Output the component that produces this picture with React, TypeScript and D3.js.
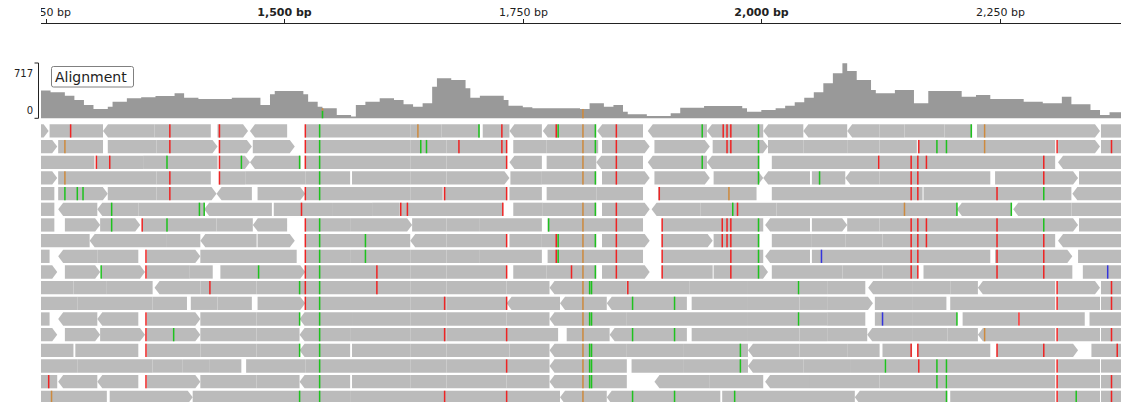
import React from "react";
import * as d3 from "d3";

// Visible region (bp)
const viewStart = 1245;
const viewEnd = 2377;

// Ruler
const tickPositions = [1250, 1500, 1750, 2000, 2250];
const tickLabels = ["1,250 bp", "1,500 bp", "1,750 bp", "2,000 bp", "2,250 bp"];
const tickBold = [false, true, false, true, false];

// Coverage track: depth sampled every 5 bp starting at coverageStart
const coverageMax = 717;
const coverageStart = 1240;
const coverageStep = 5;
const coverageValues = [
  360, 360, 360, 337, 337, 337, 294, 294, 238, 238, 173, 173, 121, 121, 121, 151,
  216, 216, 216, 259, 259, 259, 272, 272, 272, 290, 290, 290, 290, 324, 324, 268,
  268, 268, 250, 250, 250, 250, 250, 250, 250, 268, 268, 268, 268, 268, 268, 173,
  173, 311, 354, 354, 354, 354, 354, 354, 311, 216, 216, 151, 130, 130, 130, 43,
  43, 43, 22, 173, 173, 216, 216, 216, 259, 259, 259, 238, 238, 181, 181, 151,
  151, 194, 194, 410, 518, 518, 518, 497, 497, 497, 389, 268, 268, 294, 294, 294,
  294, 294, 238, 164, 164, 164, 143, 143, 130, 130, 130, 130, 130, 130, 130, 130,
  130, 130, 121, 121, 194, 194, 194, 151, 151, 173, 173, 86, 52, 52, 52, 52,
  30, 30, 30, 30, 30, 65, 65, 138, 138, 138, 138, 138, 160, 160, 160, 160,
  160, 160, 160, 160, 130, 86, 86, 86, 108, 108, 108, 130, 130, 164, 164, 207,
  207, 268, 268, 337, 337, 454, 454, 583, 583, 713, 613, 613, 497, 497, 497, 367,
  324, 324, 324, 324, 367, 367, 367, 367, 194, 194, 194, 354, 354, 354, 354, 354,
  354, 354, 281, 281, 281, 302, 302, 302, 250, 250, 250, 250, 250, 250, 250, 216,
  216, 216, 216, 194, 194, 194, 194, 281, 281, 181, 181, 181, 181, 108, 108, 43,
  43, 78, 78, 78, 78,
];

// Coloured SNP portions of the coverage: [position, from depth, to depth, base]
const snpCoverage: [number, number, number, string][] = [
  [1540, 0, 100, "A"],
  [1540, 100, 130, "G"],
  [1813, 0, 121, "G"],
];

// Stacked reads, one array per row: [start, end, strand]
const readRows: [number, number, number][][] = [
  [[1240,1253,1],[1254,1310,0],[1310,1364,-1],[1364,1423,0],[1430,1462,1],[1464,1503,-1],[1522,1632,0],[1632,1665,0],[1665,1705,0],[1708,1736,0],[1736,1770,-1],[1771,1827,-1],[1828,1876,-1],[1881,1943,-1],[1943,2002,-1],[2002,2044,-1],[2044,2090,-1],[2090,2124,-1],[2124,2150,0],[2150,2192,0],[2192,2221,0],[2226,2355,1],[2356,2380,0]],
  [[1240,1262,1],[1263,1310,0],[1315,1366,0],[1366,1430,1],[1432,1466,1],[1467,1511,1],[1522,1632,0],[1632,1670,0],[1670,1733,0],[1740,1775,0],[1775,1829,0],[1833,1883,1],[1888,1946,1],[1949,2007,1],[2007,2044,0],[2044,2090,0],[2090,2124,0],[2124,2163,0],[2164,2308,0],[2311,2355,1],[2356,2380,0]],
  [[1240,1301,0],[1303,1352,0],[1352,1377,0],[1377,1430,0],[1432,1464,1],[1464,1517,-1],[1522,1632,0],[1632,1670,0],[1670,1733,0],[1736,1770,-1],[1775,1827,0],[1827,1876,-1],[1881,1943,-1],[1943,1998,-1],[2011,2124,0],[2124,2164,0],[2164,2308,0],[2311,2380,-1]],
  [[1240,1262,1],[1263,1310,0],[1310,1366,0],[1366,1423,0],[1432,1459,0],[1459,1522,0],[1522,1569,0],[1571,1632,0],[1632,1670,0],[1670,1736,1],[1737,1770,0],[1770,1827,0],[1833,1883,1],[1888,1946,1],[1950,2002,1],[2002,2051,-1],[2053,2088,0],[2088,2124,-1],[2124,2240,0],[2245,2332,1],[2333,2380,0]],
  [[1240,1259,0],[1263,1315,1],[1315,1366,0],[1366,1429,1],[1429,1466,-1],[1472,1522,1],[1522,1632,0],[1632,1666,0],[1667,1733,0],[1736,1770,0],[1775,1827,0],[1827,1876,0],[1892,1995,0],[2011,2169,0],[2170,2325,0],[2326,2380,-1]],
  [[1240,1259,0],[1263,1304,-1],[1304,1347,-1],[1347,1416,0],[1416,1487,-1],[1489,1551,0],[1551,1592,0],[1592,1621,0],[1622,1729,0],[1740,1771,0],[1771,1827,0],[1833,1883,1],[1885,1936,-1],[1936,2016,0],[2016,2150,0],[2150,2205,0],[2205,2262,-1],[2264,2325,-1],[2325,2380,0]],
  [[1240,1259,0],[1270,1307,1],[1307,1349,1],[1351,1377,0],[1377,1429,0],[1429,1467,0],[1467,1503,-1],[1522,1569,0],[1569,1634,1],[1634,1670,0],[1670,1705,0],[1705,1770,0],[1776,1876,0],[1896,2002,0],[2004,2051,-1],[2053,2090,1],[2090,2124,0],[2124,2247,0],[2247,2332,1],[2333,2380,0]],
  [[1240,1296,0],[1296,1377,-1],[1377,1412,0],[1412,1471,-1],[1472,1511,1],[1522,1632,0],[1632,1670,-1],[1670,1733,0],[1736,1770,0],[1770,1827,0],[1833,1883,1],[1896,1949,1],[1950,1998,0],[2011,2053,0],[2053,2088,0],[2088,2127,0],[2127,2308,0],[2311,2380,-1]],
  [[1240,1254,0],[1263,1304,-1],[1304,1347,0],[1356,1412,1],[1412,1513,0],[1522,1569,0],[1569,1632,0],[1632,1670,0],[1670,1705,0],[1705,1770,0],[1776,1876,0],[1896,2002,0],[2004,2051,-1],[2053,2240,0],[2245,2326,1],[2332,2380,0]],
  [[1240,1262,1],[1270,1307,1],[1308,1354,1],[1356,1401,0],[1401,1425,0],[1433,1473,0],[1473,1522,1],[1522,1632,0],[1632,1670,0],[1670,1733,0],[1740,1775,0],[1775,1827,0],[1833,1883,1],[1896,1949,0],[1950,2007,1],[2011,2085,0],[2085,2127,0],[2127,2164,0],[2170,2247,0],[2247,2326,0],[2337,2380,0]],
  [[1240,1279,0],[1279,1314,0],[1314,1362,0],[1364,1412,-1],[1412,1471,0],[1471,1516,0],[1516,1632,0],[1632,1670,0],[1670,1733,0],[1733,1778,0],[1778,1859,-1],[1859,1925,0],[1925,1986,0],[1986,2040,0],[2040,2069,0],[2069,2109,0],[2112,2158,-1],[2158,2198,0],[2198,2227,0],[2227,2308,-1],[2311,2355,1],[2356,2380,0]],
  [[1240,1283,0],[1283,1362,0],[1362,1398,0],[1402,1430,0],[1430,1466,0],[1472,1522,1],[1522,1632,0],[1632,1670,0],[1670,1733,0],[1733,1789,-1],[1789,1838,-1],[1838,1922,-1],[1927,1986,0],[1986,2040,0],[2040,2069,0],[2069,2117,1],[2119,2158,0],[2158,2194,0],[2198,2308,0],[2311,2355,0],[2356,2380,0]],
  [[1240,1254,0],[1263,1304,-1],[1304,1347,-1],[1356,1412,1],[1412,1471,0],[1471,1516,0],[1516,1571,-1],[1571,1632,0],[1632,1670,0],[1670,1733,0],[1733,1778,0],[1778,1859,-1],[1859,1986,0],[1986,2040,0],[2040,2069,0],[2069,2109,0],[2119,2158,0],[2158,2205,0],[2211,2269,0],[2271,2339,0],[2344,2380,0]],
  [[1240,1262,1],[1270,1307,1],[1307,1354,1],[1356,1384,0],[1384,1412,1],[1412,1471,0],[1471,1516,0],[1516,1569,-1],[1569,1632,0],[1632,1670,0],[1670,1733,0],[1733,1787,0],[1796,1841,0],[1841,1922,-1],[1927,1986,0],[1986,2040,0],[2040,2069,0],[2069,2111,0],[2111,2158,-1],[2158,2195,0],[2195,2227,0],[2227,2308,-1],[2311,2355,0],[2356,2380,0]],
  [[1240,1279,0],[1281,1347,0],[1356,1412,0],[1412,1471,0],[1471,1516,0],[1516,1569,-1],[1571,1632,0],[1632,1670,0],[1670,1736,0],[1736,1778,0],[1778,1859,-1],[1859,1918,0],[1918,1986,0],[1986,2040,-1],[2040,2090,0],[2090,2124,0],[2127,2158,0],[2164,2240,0],[2247,2332,1],[2346,2380,0]],
  [[1240,1283,0],[1283,1362,0],[1362,1393,0],[1393,1422,0],[1422,1455,0],[1460,1522,0],[1522,1632,0],[1632,1670,0],[1670,1733,0],[1733,1778,0],[1778,1859,-1],[1864,1918,0],[1918,1986,0],[1986,2044,-1],[2044,2093,0],[2093,2129,0],[2129,2166,0],[2166,2308,0],[2311,2355,0],[2356,2380,0]],
  [[1240,1262,0],[1263,1304,-1],[1304,1347,-1],[1356,1412,1],[1412,1471,0],[1471,1516,0],[1516,1569,-1],[1571,1632,0],[1632,1670,0],[1670,1733,0],[1733,1778,0],[1778,1859,-1],[1888,1946,-1],[1946,2002,0],[2004,2051,-1],[2051,2124,0],[2124,2195,0],[2195,2308,0],[2311,2355,0],[2356,2380,0]],
  [[1240,1314,0],[1317,1404,1],[1404,1516,0],[1516,1569,0],[1569,1733,0],[1733,1789,0],[1789,1838,-1],[1838,1957,-1],[1959,2098,0],[2098,2195,-1],[2198,2308,0],[2311,2355,0],[2356,2380,0]],
];

// Mismatched bases: [row, position, base]
const mismatches: [number, number, string][] = [
  [0,1276,"T"],[0,1380,"T"],[0,1432,"T"],[0,1522,"T"],[0,1537,"A"],[0,1640,"G"],[0,1704,"A"],[0,1728,"T"],[0,1785,"T"],[0,1787,"A"],[0,1813,"G"],[0,1826,"A"],[0,1848,"T"],[0,1938,"A"],[0,1960,"T"],[0,1964,"T"],[0,1968,"T"],[0,1997,"A"],[0,2220,"A"],[0,2234,"G"],
  [1,1270,"G"],[1,1380,"T"],[1,1432,"T"],[1,1522,"T"],[1,1537,"A"],[1,1643,"A"],[1,1649,"A"],[1,1683,"T"],[1,1728,"T"],[1,1733,"T"],[1,1813,"G"],[1,1826,"A"],[1,1848,"T"],[1,1964,"T"],[1,1968,"T"],[1,1997,"A"],[1,2165,"T"],[1,2184,"A"],[1,2194,"A"],[1,2234,"G"],[1,2310,"T"],[1,2367,"T"],
  [2,1303,"T"],[2,1317,"T"],[2,1377,"A"],[2,1432,"T"],[2,1455,"A"],[2,1516,"A"],[2,1522,"T"],[2,1537,"A"],[2,1733,"T"],[2,1813,"G"],[2,1848,"T"],[2,1938,"A"],[2,1997,"A"],[2,2123,"T"],[2,2157,"T"],[2,2164,"T"],[2,2173,"T"],[2,2296,"T"],
  [3,1270,"G"],[3,1380,"T"],[3,1432,"T"],[3,1537,"A"],[3,1813,"G"],[3,1826,"A"],[3,1848,"T"],[3,1997,"A"],[3,2061,"A"],[3,2157,"T"],[3,2164,"T"],[3,2296,"T"],
  [4,1270,"A"],[4,1283,"A"],[4,1289,"A"],[4,1380,"T"],[4,1522,"T"],[4,1537,"A"],[4,1668,"T"],[4,1733,"T"],[4,1893,"T"],[4,1966,"G"],[4,2157,"T"],[4,2164,"T"],[4,2247,"T"],[4,2296,"A"],
  [5,1319,"A"],[5,1411,"A"],[5,1416,"A"],[5,1518,"T"],[5,1622,"T"],[5,1629,"T"],[5,1729,"T"],[5,1813,"G"],[5,1826,"A"],[5,1848,"T"],[5,1970,"A"],[5,1975,"T"],[5,2150,"G"],[5,2205,"A"],[5,2262,"A"],
  [6,1319,"A"],[6,1351,"T"],[6,1377,"A"],[6,1522,"T"],[6,1537,"A"],[6,1777,"A"],[6,1813,"G"],[6,1848,"T"],[6,1896,"T"],[6,1959,"T"],[6,1964,"T"],[6,1968,"T"],[6,1997,"A"],[6,2157,"T"],[6,2164,"T"],[6,2173,"T"],[6,2247,"T"],[6,2296,"A"],
  [7,1522,"T"],[7,1537,"A"],[7,1585,"A"],[7,1733,"T"],[7,1785,"T"],[7,1787,"A"],[7,1813,"G"],[7,1826,"A"],[7,1848,"T"],[7,1896,"T"],[7,1959,"T"],[7,1964,"T"],[7,1968,"T"],[7,1997,"A"],[7,2157,"T"],[7,2164,"T"],[7,2173,"T"],[7,2247,"T"],[7,2296,"T"],
  [8,1355,"T"],[8,1522,"T"],[8,1537,"A"],[8,1585,"A"],[8,1785,"T"],[8,1787,"A"],[8,1813,"G"],[8,1848,"T"],[8,1896,"T"],[8,1968,"T"],[8,1997,"A"],[8,2063,"C"],[8,2157,"T"],[8,2164,"T"],[8,2247,"T"],[8,2296,"T"],
  [9,1308,"A"],[9,1355,"T"],[9,1473,"A"],[9,1522,"T"],[9,1537,"A"],[9,1597,"T"],[9,1733,"T"],[9,1801,"T"],[9,1813,"G"],[9,1826,"A"],[9,1848,"T"],[9,1896,"T"],[9,1968,"T"],[9,1997,"A"],[9,2157,"T"],[9,2164,"T"],[9,2247,"T"],[9,2296,"T"],[9,2363,"C"],
  [10,1422,"T"],[10,1516,"A"],[10,1522,"T"],[10,1537,"A"],[10,1597,"T"],[10,1813,"G"],[10,1820,"A"],[10,1822,"A"],[10,1860,"T"],[10,2039,"A"],[10,2310,"T"],[10,2367,"T"],
  [11,1522,"T"],[11,1537,"A"],[11,1668,"T"],[11,1733,"T"],[11,1813,"G"],[11,1865,"A"],[11,1909,"A"],[11,2310,"T"],[11,2367,"T"],
  [12,1355,"T"],[12,1516,"A"],[12,1537,"A"],[12,1813,"G"],[12,1820,"A"],[12,1822,"A"],[12,2039,"A"],[12,2127,"C"],[12,2205,"A"],[12,2270,"T"],
  [13,1355,"T"],[13,1384,"A"],[13,1537,"A"],[13,1668,"T"],[13,1733,"T"],[13,1813,"G"],[13,1865,"A"],[13,1909,"A"],[13,2234,"G"],[13,2310,"T"],[13,2367,"T"],
  [14,1355,"T"],[14,1516,"A"],[14,1537,"A"],[14,1813,"G"],[14,1820,"A"],[14,1822,"A"],[14,1978,"A"],[14,2157,"T"],[14,2164,"T"],[14,2247,"T"],[14,2296,"T"],[14,2373,"T"],
  [15,1537,"A"],[15,1733,"T"],[15,1813,"G"],[15,1820,"A"],[15,1822,"A"],[15,1978,"A"],[15,2130,"A"],[15,2165,"T"],[15,2184,"A"],[15,2194,"A"],[15,2310,"T"],
  [16,1253,"T"],[16,1355,"T"],[16,1537,"A"],[16,1813,"G"],[16,1820,"A"],[16,1822,"A"],[16,2184,"A"],[16,2194,"A"],[16,2310,"T"],[16,2367,"T"],
  [17,1256,"G"],[17,1516,"A"],[17,1537,"A"],[17,1668,"T"],[17,1733,"T"],[17,1813,"G"],[17,1865,"A"],[17,1909,"A"],[17,1972,"A"],[17,2194,"A"],[17,2310,"T"],[17,2330,"A"],[17,2367,"T"],
];

const baseColors: Record<string, string> = {
  A: "#1ec21e",
  C: "#3434dc",
  G: "#cd8a3e",
  T: "#ee2424",
};

const FONT = "'DejaVu Sans', Verdana, sans-serif";

export default function App() {
  const width = 1121;
  const height = 402;
  const left = 41;

  const x = d3.scaleLinear().domain([viewStart, viewEnd]).range([left, width]);

  const covBase = 118.3;
  const covTop = 63;
  const yCov = d3.scaleLinear().domain([0, coverageMax]).range([covBase, covTop]);

  const covPoints: [number, number][] = coverageValues.map((v, i) => [
    coverageStart + i * coverageStep,
    v,
  ]);
  const covArea = d3
    .area<[number, number]>()
    .x((d) => x(d[0]))
    .y0(covBase)
    .y1((d) => yCov(d[1]))
    .curve(d3.curveStepAfter);

  const rowTop = 124.3;
  const rowPitch = 15.67;
  const readH = 13.3;
  const tip = 5;

  const readPath = (s: number, e: number, strand: number, y: number) => {
    const x1 = x(s);
    const x2 = x(e);
    const m = y + readH / 2;
    if (strand > 0) {
      return `M${x1},${y}H${x2 - tip}L${x2},${m}L${x2 - tip},${y + readH}H${x1}Z`;
    }
    if (strand < 0) {
      return `M${x1 + tip},${y}H${x2}V${y + readH}H${x1 + tip}L${x1},${m}Z`;
    }
    return `M${x1},${y}H${x2}V${y + readH}H${x1}Z`;
  };

  return (
    <svg
      width={width}
      height={height}
      style={{ position: "absolute", left: 0, top: 0, background: "#fff" }}
      fontFamily={FONT}
    >
      <defs>
        <clipPath id="view-clip">
          <rect x={left} y={0} width={width - left} height={height} />
        </clipPath>
        <clipPath id="ruler-clip">
          <rect x={41} y={0} width={width - 41} height={30} />
        </clipPath>
      </defs>

      {/* ruler */}
      <g clipPath="url(#ruler-clip)">
        <line x1={left} x2={width} y1={23.5} y2={23.5} stroke="#222" strokeWidth={1} />
        {tickPositions.map((t, i) => {
          const tx = Math.round(x(t)) + 0.5;
          return (
            <g key={t}>
              <line x1={tx} x2={tx} y1={19} y2={23.5} stroke="#222" />
              <text
                x={tx}
                y={16}
                textAnchor="middle"
                fontSize={11}
                fontWeight={tickBold[i] ? "bold" : "normal"}
                fill="#222"
              >
                {tickLabels[i]}
              </text>
            </g>
          );
        })}
      </g>

      {/* coverage */}
      <g clipPath="url(#view-clip)">
        <path d={covArea(covPoints) ?? ""} fill="#999999" />
        {snpCoverage.map(([p, from, to, base], i) => (
          <rect
            key={`sc${i}`}
            x={x(p) - 0.75}
            y={yCov(to)}
            width={1.6}
            height={yCov(from) - yCov(to)}
            fill={baseColors[base]}
          />
        ))}
      </g>

      {/* coverage scale */}
      <path
        d={`M34.5,${covTop}H38.5V${covBase}H34.5`}
        fill="none"
        stroke="#222"
        strokeWidth={1}
      />
      <text x={33} y={77} textAnchor="end" fontSize={10} fill="#222">
        {coverageMax}
      </text>
      <text x={33} y={114} textAnchor="end" fontSize={10} fill="#222">
        0
      </text>

      {/* track label */}
      <rect
        x={51.5}
        y={66.5}
        width={82}
        height={20.5}
        rx={2}
        fill="#fff"
        stroke="#808080"
        strokeWidth={1}
      />
      <text x={55} y={82} fontSize={14} fill="#222">
        Alignment
      </text>

      {/* reads */}
      <g clipPath="url(#view-clip)">
        {readRows.map((row, ri) =>
          row.map(([s, e, strand], k) => (
            <path
              key={`r${ri}-${k}`}
              d={readPath(s, e, strand, rowTop + ri * rowPitch)}
              fill="#bbbbbb"
            />
          ))
        )}
        {mismatches.map(([ri, p, base], k) => (
          <rect
            key={`m${k}`}
            x={x(p) - 0.7}
            y={rowTop + ri * rowPitch}
            width={1.5}
            height={readH}
            fill={baseColors[base]}
          />
        ))}
      </g>
    </svg>
  );
}
